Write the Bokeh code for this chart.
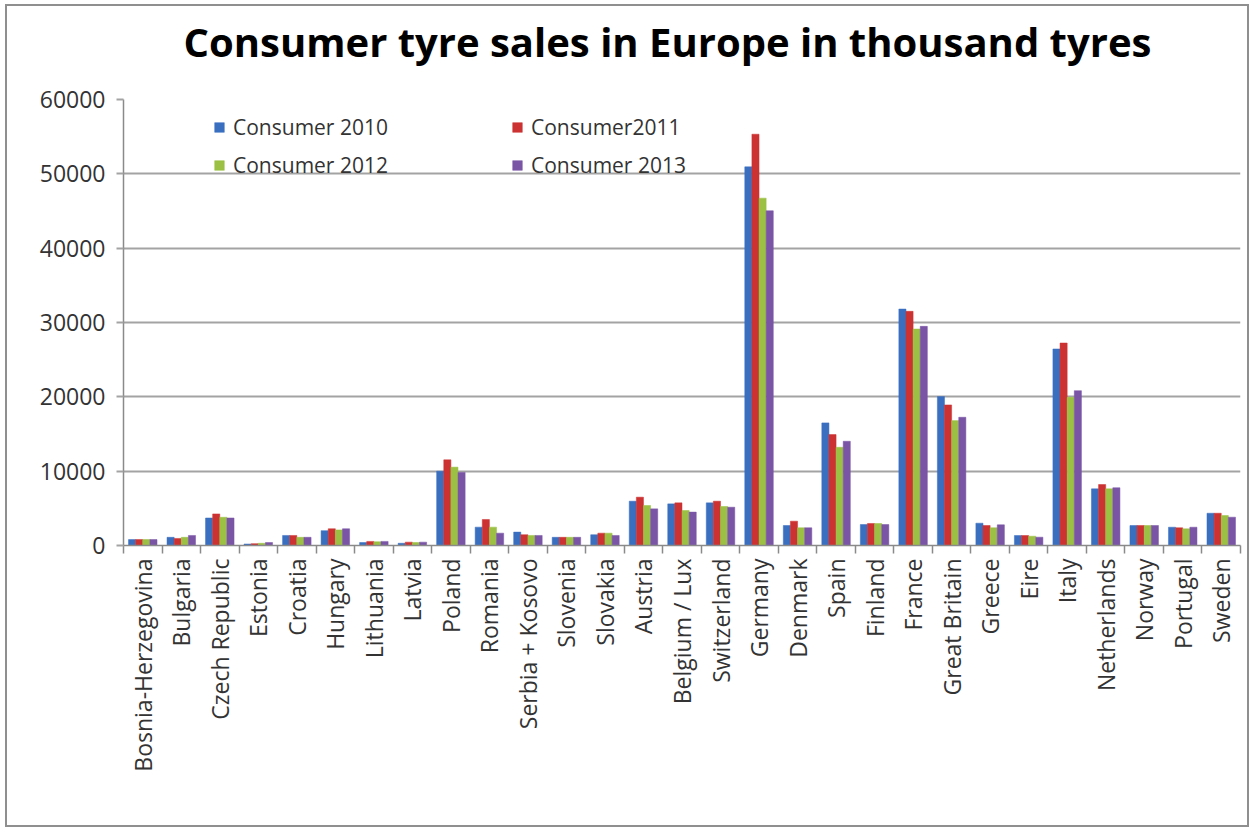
import math
from bokeh.plotting import figure
from bokeh.models import (ColumnDataSource, Range1d, FixedTicker, CustomJSTickFormatter,
                          NumeralTickFormatter, Legend, LegendItem, Title)
from bokeh.transform import dodge
from bokeh.embed import file_html
from bokeh.resources import INLINE

countries = ["Bosnia-Herzegovina", "Bulgaria", "Czech Republic", "Estonia", "Croatia", "Hungary",
             "Lithuania", "Latvia", "Poland", "Romania", "Serbia + Kosovo", "Slovenia", "Slovakia",
             "Austria", "Belgium / Lux", "Switzerland", "Germany", "Denmark", "Spain", "Finland",
             "France", "Great Britain", "Greece", "Eire", "Italy", "Netherlands", "Norway",
             "Portugal", "Sweden"]
c2010 = [800, 1100, 3700, 200, 1350, 2000, 400, 300, 10000, 2470, 1800, 1100, 1450, 5960, 5600,
         5740, 50940, 2690, 16490, 2820, 31810, 20030, 3000, 1340, 26440, 7620, 2690, 2460, 4340]
c2011 = [800, 950, 4250, 250, 1350, 2250, 550, 450, 11530, 3500, 1450, 1100, 1660, 6500, 5740,
         5960, 55330, 3270, 14920, 2960, 31500, 18910, 2690, 1340, 27240, 8200, 2690, 2380, 4340]
c2012 = [800, 1100, 3800, 300, 1100, 2100, 500, 400, 10540, 2470, 1350, 1100, 1660, 5380, 4710,
         5250, 46730, 2380, 13210, 2960, 29120, 16800, 2380, 1250, 19930, 7620, 2690, 2240, 4030]
c2013 = [800, 1350, 3700, 400, 1100, 2250, 550, 450, 9830, 1660, 1350, 1100, 1350, 4930, 4490,
         5150, 45030, 2380, 14020, 2820, 29480, 17250, 2780, 1120, 20830, 7770, 2690, 2460, 3810]
series_names = ["Consumer 2010", "Consumer2011", "Consumer 2012", "Consumer 2013"]
colors = ["#3a6fc0", "#cc3232", "#9bc043", "#7a55a6"]
y_ticks = [0, 10000, 20000, 30000, 40000, 50000, 60000]
title_text = "Consumer tyre sales in Europe in thousand tyres"

n = len(countries)
source = ColumnDataSource(dict(
    xc=[i + 0.5 for i in range(n)],
    c2010=c2010, c2011=c2011, c2012=c2012, c2013=c2013,
))

FONT = "Open Sans"

p = figure(width=1244, height=823, output_backend="svg", toolbar_location=None,
           x_range=Range1d(0, n), y_range=Range1d(0, 60000),
           min_border_left=116, min_border_right=11, min_border_top=93, min_border_bottom=284)
p.styles = {"margin-left": "5px", "margin-top": "4px", "border": "2px solid #8f8f8f"}

p.title.text = title_text
p.title.text_font = FONT
p.title.text_font_size = "40px"
p.title.text_font_style = "bold"
p.title.text_color = "#000000"
p.title.align = "left"
p.title.vertical_align = "top"
p.title.offset = 60
p.title.standoff = 10

# blank spacer between the frame and the title
spacer = Title(text=" ", text_font_size="10px", standoff=11)
p.add_layout(spacer, "above")

p.outline_line_color = None
p.background_fill_color = "white"
p.border_fill_color = "white"

bw = 0.185
offs = [-1.5 * bw, -0.5 * bw, 0.5 * bw, 1.5 * bw]
cols = ["c2010", "c2011", "c2012", "c2013"]
renderers = []
for col, off, colr in zip(cols, offs, colors):
    r = p.vbar(x=dodge("xc", off, range=p.x_range), top=col, width=bw, source=source,
               fill_color=colr, line_color=colr, line_width=0.5)
    renderers.append(r)

# axes
p.xgrid.visible = False
p.ygrid.grid_line_color = "#a3a3a3"
p.ygrid.grid_line_width = 2

p.yaxis.ticker = FixedTicker(ticks=y_ticks)
p.yaxis.formatter = NumeralTickFormatter(format="0")
p.yaxis.axis_line_color = "#8a8a8a"
p.yaxis.axis_line_width = 1.5
p.yaxis.major_tick_line_color = "#a3a3a3"
p.yaxis.major_tick_line_width = 2
p.yaxis.major_tick_out = 7
p.yaxis.major_tick_in = 0
p.yaxis.minor_tick_line_color = None
p.yaxis.major_label_standoff = 11
p.yaxis.major_label_text_font = FONT
p.yaxis.major_label_text_font_size = "23px"
p.yaxis.major_label_text_color = "#333333"

p.xaxis.ticker = FixedTicker(ticks=[i + 0.5 for i in range(n)],
                             minor_ticks=list(range(n + 1)))
p.xaxis.formatter = CustomJSTickFormatter(args=dict(names=countries),
                                          code="const i = Math.floor(tick); return names[i] || '';")
p.xaxis.axis_line_color = "#8a8a8a"
p.xaxis.axis_line_width = 1.5
p.xaxis.major_tick_line_color = None
p.xaxis.major_tick_out = 8
p.xaxis.major_tick_in = 0
p.xaxis.minor_tick_line_color = "#8a8a8a"
p.xaxis.minor_tick_line_width = 1.5
p.xaxis.minor_tick_out = 8
p.xaxis.minor_tick_in = 0
p.xaxis.major_label_orientation = math.pi / 2
p.xaxis.major_label_standoff = 5
p.xaxis.major_label_text_font = FONT
p.xaxis.major_label_text_font_size = "23px"
p.xaxis.major_label_text_color = "#333333"

legend = Legend(items=[LegendItem(label=nm, renderers=[r]) for nm, r in zip(series_names, renderers)],
                location=(90, 365), orientation="horizontal", ncols=2,
                padding=0, margin=0, spacing=8,
                glyph_width=12, glyph_height=12, label_standoff=8,
                label_width=270, label_height=30,
                label_text_font=FONT, label_text_font_size="21px", label_text_color="#333333",
                background_fill_alpha=0, border_line_color=None)
p.add_layout(legend)

open("out.html", "w").write(file_html(p, INLINE))
